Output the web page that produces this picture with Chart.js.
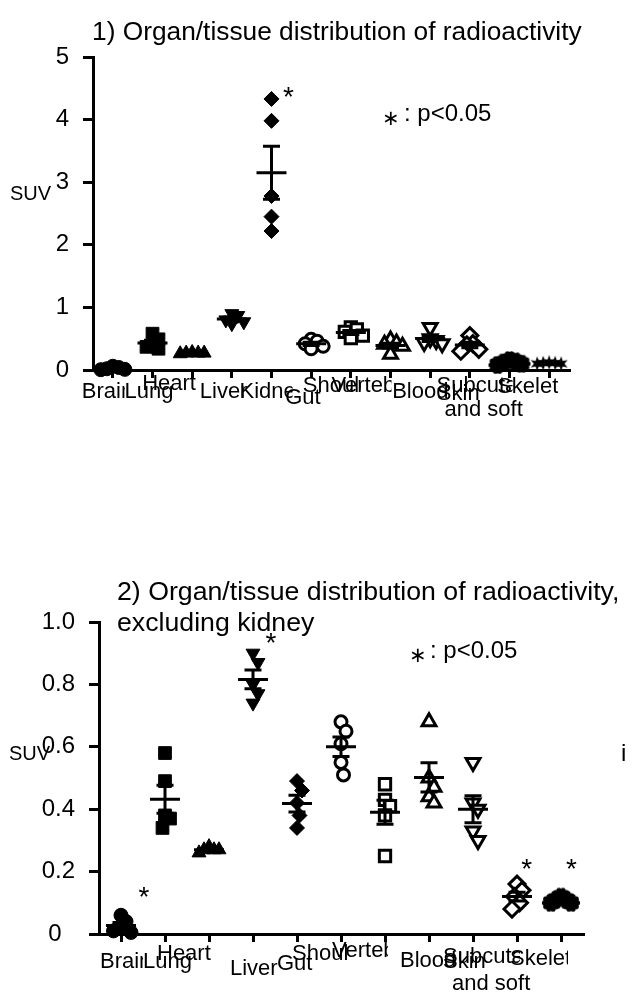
<!DOCTYPE html>
<html>
<head>
<meta charset="utf-8">
<script src="https://cdn.jsdelivr.net/npm/chart.js@4.4.0/dist/chart.umd.min.js"></script>
<style>
  html, body { margin: 0; padding: 0; background: #fff; }
  #page { position: relative; width: 632px; height: 994px; overflow: hidden; }
  .box { position: absolute; left: 0; width: 632px; }
  #box1 { top: 0; height: 430px; }
  #box2 { top: 560px; height: 434px; }
</style>
</head>
<body>
<div id="page">
  <div class="box" id="box1"><canvas id="chart1"></canvas></div>
  <div class="box" id="box2"><canvas id="chart2"></canvas></div>
</div>
<script>
// organs, in plot order
const organs = ['Brain', 'Lung', 'Heart', 'Liver', 'Kidney', 'Gut', 'Shoulder', 'Vertebra',
  'Blood', 'Skin', 'Subcutaneous and soft tissue', 'Skeletal muscle'];

// SUV per animal (n = 5)
const brain = [0.06, 0.04, 0.02, 0.01, 0.005];
const lung = [0.58, 0.49, 0.38, 0.37, 0.34];
const heart = [0.28, 0.27, 0.27, 0.26, 0.27];
const liver = [0.90, 0.87, 0.80, 0.77, 0.74];
const kidney = [4.33, 3.98, 2.78, 2.45, 2.22];
const gut = [0.49, 0.46, 0.42, 0.38, 0.34];
const shoulder = [0.68, 0.65, 0.61, 0.55, 0.51];
const vertebra = [0.48, 0.43, 0.41, 0.38, 0.25];
const blood = [0.68, 0.50, 0.47, 0.44, 0.42];
const skin = [0.55, 0.42, 0.40, 0.33, 0.30];
const subcut = [0.16, 0.14, 0.12, 0.10, 0.08];
const skeletal = [0.12, 0.11, 0.11, 0.10, 0.10];

const yTicksTop = [0, 1, 2, 3, 4, 5];
const yTicksBottom = [0, 0.2, 0.4, 0.6, 0.8, 1.0];

// significance marks: organ, SUV level of the star, shift right (in categories)
const sigTop = [['Kidney', 4.48, 0.43]];
const sigBottom = [['Brain', 0.14, 0.52], ['Liver', 0.955, 0.41],
  ['Subcutaneous and soft tissue', 0.23, 0.22], ['Skeletal muscle', 0.23, 0.24]];

const FONT = '"Liberation Sans", Arial, sans-serif';
const allValues = [brain, lung, heart, liver, kidney, gut, shoulder, vertebra, blood, skin, subcut, skeletal];

function flower() {
  const c = document.createElement('canvas');
  c.width = 20; c.height = 20;
  const g = c.getContext('2d');
  g.fillStyle = '#000';
  g.beginPath(); g.arc(10, 10, 6.2, 0, Math.PI * 2); g.fill();
  for (let k = 0; k < 10; k++) {
    const a = k * Math.PI / 5;
    g.beginPath(); g.arc(10 + Math.cos(a) * 6.5, 10 + Math.sin(a) * 6.5, 2.6, 0, Math.PI * 2); g.fill();
  }
  return c;
}

function star() {
  const c = document.createElement('canvas');
  c.width = 16; c.height = 16;
  const g = c.getContext('2d');
  g.fillStyle = '#000';
  g.beginPath();
  for (let k = 0; k < 12; k++) {
    const a = -Math.PI / 2 + k * Math.PI / 6;
    const r = k % 2 ? 3.2 : 7.5;
    g.lineTo(8 + Math.cos(a) * r, 8 + Math.sin(a) * r);
  }
  g.closePath(); g.fill();
  return c;
}

// GraphPad-like symbol sequence
const symbols = [
  { style: 'circle', r: 7, fill: true },
  { style: 'rect', r: 9, fill: true },
  { style: 'triangle', r: 8, fill: true },
  { style: 'triangle', r: 8, fill: true, rot: 180 },
  { style: 'rectRot', r: 7.5, fill: true },
  { style: 'circle', r: 6, fill: false },
  { style: 'rect', r: 8, fill: false },
  { style: 'triangle', r: 8, fill: false },
  { style: 'triangle', r: 8, fill: false, rot: 180 },
  { style: 'rectRot', r: 8, fill: false },
  { style: flower(), r: 9 },
  { style: star(), r: 8 }
];

// spread overlapping points sideways (beeswarm), result in category units
function swarm(vals, ppu, ppc, mx, my) {
  const order = vals.map((v, i) => i).sort((a, b) => vals[b] - vals[a]);
  const placed = [];
  const off = new Array(vals.length).fill(0);
  for (const i of order) {
    const y = vals[i] * ppu;
    const cands = [0];
    for (let k = 1; k < 12; k++) cands.push(k * mx / 2, -k * mx / 2);
    for (const dx of cands) {
      const free = placed.every(p => ((p.x - dx) / mx) ** 2 + ((p.y - y) / my) ** 2 >= 1);
      if (free) { off[i] = dx; placed.push({ x: dx, y: y }); break; }
    }
  }
  return off.map(d => d / ppc);
}

function mean(a) { return a.reduce((s, v) => s + v, 0) / a.length; }
function sem(a) {
  const m = mean(a);
  const v = a.reduce((s, x) => s + (x - m) * (x - m), 0) / (a.length - 1);
  return Math.sqrt(v / a.length);
}

// mean line + SEM bars, significance stars
const errBars = {
  id: 'errBars',
  afterDatasetsDraw(chart, args, o) {
    const { ctx, scales: { x, y } } = chart;
    ctx.save();
    ctx.strokeStyle = '#000';
    ctx.lineWidth = 3;
    o.groups.forEach((vals, i) => {
      const m = mean(vals), s = sem(vals);
      const cx = x.getPixelForValue(i);
      const yt = y.getPixelForValue(m + s), yb = y.getPixelForValue(m - s), ym = y.getPixelForValue(m);
      ctx.beginPath();
      ctx.moveTo(cx, yt); ctx.lineTo(cx, yb);
      ctx.moveTo(cx - 8.5, yt); ctx.lineTo(cx + 8.5, yt);
      ctx.moveTo(cx - 8.5, yb); ctx.lineTo(cx + 8.5, yb);
      ctx.moveTo(cx - 15, ym); ctx.lineTo(cx + 15, ym);
      ctx.stroke();
    });
    ctx.fillStyle = '#000';
    ctx.font = '28px ' + FONT;
    ctx.textAlign = 'center';
    ctx.textBaseline = 'alphabetic';
    o.sig.forEach(([name, v, dx]) => {
      const i = o.cats.indexOf(name);
      ctx.fillText('*', x.getPixelForValue(i + dx), y.getPixelForValue(v) + 16);
    });
    ctx.restore();
  }
};

// category names under the axis, overlapping and cut like the original
const xLabels = {
  id: 'xLabels',
  afterDraw(chart, args, o) {
    const { ctx, scales: { x, y } } = chart;
    const axisY = y.getPixelForValue(0);
    ctx.save();
    ctx.fillStyle = '#000';
    ctx.font = '22px ' + FONT;
    ctx.textAlign = 'left';
    ctx.textBaseline = 'alphabetic';
    o.cats.forEach((name, i) => {
      const lines = name === 'Subcutaneous and soft tissue' ? ['Subcutaneous', 'and soft tissue'] : [name];
      const lay = o.layout[i];
      lines.forEach((t, k) => {
        const [dx, dy, w] = lay[k];
        const left = x.getPixelForValue(i) + dx;
        ctx.save();
        ctx.beginPath();
        ctx.rect(left - 2, axisY + dy - 24, w + 2, 32);
        ctx.clip();
        ctx.fillText(t, left, axisY + dy);
        ctx.restore();
      });
    });
    ctx.restore();
  }
};

// free text: titles, axis name, key
const texts = {
  id: 'texts',
  afterDraw(chart, args, o) {
    const ctx = chart.ctx;
    ctx.save();
    ctx.fillStyle = '#000';
    ctx.textBaseline = 'alphabetic';
    ctx.textAlign = 'left';
    o.items.forEach(t => {
      ctx.font = t.size + 'px ' + (t.family || FONT);
      ctx.fillText(t.text, t.x, t.y);
    });
    ctx.restore();
  }
};

function makeChart(id, cats, groups, cfg) {
  const n = cats.length;
  const datasets = groups.map((vals, i) => {
    const s = symbols[i];
    const off = swarm(vals, cfg.ppu, cfg.ppc, cfg.mx, cfg.my);
    return {
      data: vals.map((v, j) => ({ x: i + off[j], y: v })),
      pointStyle: s.style,
      pointRadius: s.r,
      pointRotation: s.rot || 0,
      backgroundColor: s.fill === false ? '#fff' : '#000',
      borderColor: '#000',
      borderWidth: s.fill === false ? 3 : 1,
      showLine: false,
      clip: false
    };
  });
  return new Chart(document.getElementById(id), {
    type: 'scatter',
    data: { datasets },
    plugins: [errBars, xLabels, texts],
    options: {
      responsive: true,
      maintainAspectRatio: false,
      animation: false,
      events: [],
      layout: { padding: cfg.padding },
      plugins: {
        legend: { display: false },
        tooltip: { enabled: false },
        errBars: { groups, cats, sig: cfg.sig },
        xLabels: { cats, layout: cfg.labelLayout },
        texts: { items: cfg.texts }
      },
      scales: {
        x: {
          type: 'linear',
          min: -0.5,
          max: n - 0.5,
          afterBuildTicks: s => { s.ticks = cats.map((c, i) => ({ value: i })); },
          afterFit: s => { s.height = 60; },
          ticks: { display: false },
          grid: { drawOnChartArea: false, drawTicks: true, tickLength: 8, color: '#000', lineWidth: 3 },
          border: { display: true, color: '#000', width: 3 }
        },
        y: {
          min: 0,
          max: cfg.yTicks[cfg.yTicks.length - 1],
          afterBuildTicks: s => { s.ticks = cfg.yTicks.map(v => ({ value: v })); },
          afterFit: s => { s.width = cfg.yWidth; },
          ticks: { color: '#000', font: { size: 24, family: FONT }, padding: 14, callback: cfg.tickFmt },
          grid: { drawOnChartArea: false, drawTicks: true, tickLength: 10, color: '#000', lineWidth: 3 },
          border: { display: true, color: '#000', width: 3 }
        }
      }
    }
  });
}

// top: all organs, 0-5
makeChart('chart1', organs, allValues, {
  yTicks: yTicksTop,
  tickFmt: v => String(v),
  ppu: 62.6, ppc: 39.7, mx: 6, my: 9,
  yWidth: 83,
  padding: { left: 10, right: 63, top: 57, bottom: 0 },
  sig: sigTop,
  labelLayout: [
    [[-31, 28, 43]], [[-28, 28, 50]], [[-50, 20, 60]], [[-32, 28, 50]], [[-32, 28, 53]],
    [[-26, 34, 40]], [[-48, 22, 58]], [[-59, 22, 60]], [[-38, 28, 56]], [[-33, 30, 45]],
    [[-73, 22, 76], [-65, 46, 80]], [[-52, 23, 61]]
  ],
  texts: [
    { text: '1) Organ/tissue distribution of radioactivity', x: 92, y: 40, size: 26.3 },
    { text: 'SUV', x: 10, y: 200, size: 20 },
    { text: '\u2217', x: 382, y: 125, size: 21, family: '"DejaVu Sans", sans-serif' },
    { text: ': p<0.05', x: 404, y: 121, size: 24 }
  ]
});

// bottom: kidney left out, 0-1
const organs2 = organs.filter(o => o !== 'Kidney');
const values2 = allValues.filter(a => a !== kidney);
makeChart('chart2', organs2, values2, {
  yTicks: yTicksBottom,
  tickFmt: v => (v === 0 ? '0  ' : v.toFixed(1)),
  ppu: 312, ppc: 44, mx: 5, my: 13,
  yWidth: 89,
  padding: { left: 10, right: 49, top: 62, bottom: 0 },
  sig: sigBottom,
  labelLayout: [
    [[-21, 34, 43]], [[-22, 34, 50]], [[-52, 26, 60]], [[-23, 41, 50]], [[-20, 36, 40]],
    [[-49, 26, 56]], [[-53, 23, 56]], [[-29, 33, 56]], [[-30, 34, 45]],
    [[-74, 29, 77], [-65, 56, 80]], [[-51, 31, 58]]
  ],
  texts: [
    { text: '2) Organ/tissue distribution of radioactivity,', x: 117, y: 40, size: 26.7 },
    { text: 'excluding kidney', x: 117, y: 71, size: 26.7 },
    { text: 'SUV', x: 9, y: 200, size: 20 },
    { text: '\u2217', x: 409, y: 102, size: 21, family: '"DejaVu Sans", sans-serif' },
    { text: ': p<0.05', x: 430, y: 98, size: 24 },
    { text: 'i', x: 621, y: 201, size: 24 }
  ]
});
</script>
</body>
</html>
